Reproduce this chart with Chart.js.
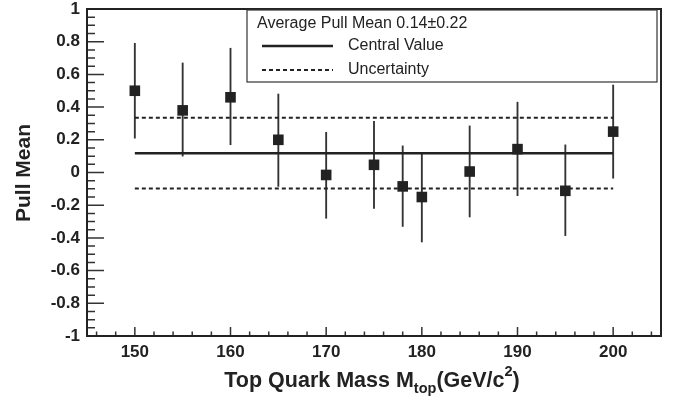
<!DOCTYPE html>
<html>
<head>
<meta charset="utf-8">
<script src="https://cdn.jsdelivr.net/npm/chart.js@4.4.1/dist/chart.umd.min.js"></script>
<style>
  html, body { margin: 0; padding: 0; background: #fff; }
  #wrap { width: 680px; height: 405px; position: relative; }
</style>
</head>
<body>
<div id="wrap"><canvas id="pullChart"></canvas></div>
<script>
// top mass points and fitted pull means
const masses    = [150, 155, 160, 165, 170, 175, 178, 180, 185, 190, 195, 200];
const pullMean  = [0.50, 0.38, 0.46, 0.20, -0.015, 0.047, -0.085, -0.15, 0.006, 0.143, -0.112, 0.25];
const errLow    = [0.21, 0.10, 0.17, -0.085, -0.28, -0.22, -0.33, -0.425, -0.272, -0.142, -0.386, -0.035];
const errHigh   = [0.79, 0.67, 0.76, 0.48, 0.246, 0.313, 0.163, 0.12, 0.285, 0.43, 0.169, 0.535];

const centralValue = 0.118;
const uncUp   = 0.335;
const uncDown = -0.098;

const xTicks = [150, 160, 170, 180, 190, 200];
const yTicks = [1, 0.8, 0.6, 0.4, 0.2, 0, -0.2, -0.4, -0.6, -0.8, -1];

const legendTitle = 'Average Pull Mean 0.14\u00b10.22';
const ink = '#222';

function hLine(y) {
    return [{x: masses[0], y: y}, {x: masses[masses.length - 1], y: y}];
}

// frame, inward ROOT-style ticks, axis titles and the legend box
const decorations = {
    id: 'decorations',
    beforeDatasetsDraw(chart) {
        const ctx = chart.ctx;
        const a = chart.chartArea;
        const xs = chart.scales.x;
        const ys = chart.scales.y;
        ctx.save();
        ctx.strokeStyle = '#333';
        ctx.lineWidth = 1.5;
        ctx.beginPath();
        for (let i = 73; i <= 102; i++) {
            const v = i * 2;
            const px = xs.getPixelForValue(v);
            const len = (v % 10 === 0) ? 9 : 4.5;
            ctx.moveTo(px, a.bottom);
            ctx.lineTo(px, a.bottom - len);
        }
        for (let i = -20; i <= 20; i++) {
            const py = ys.getPixelForValue(i * 0.05);
            const len = (i % 4 === 0) ? 17 : 8;
            ctx.moveTo(a.left, py);
            ctx.lineTo(a.left + len, py);
        }
        ctx.stroke();

        ctx.strokeStyle = ink;
        ctx.lineWidth = 2;
        ctx.strokeRect(a.left, a.top, a.right - a.left, a.bottom - a.top);
        ctx.restore();
    },
    afterDraw(chart) {
        const ctx = chart.ctx;
        ctx.save();
        ctx.fillStyle = ink;

        // y title
        ctx.save();
        ctx.translate(24, 173);
        ctx.rotate(-Math.PI / 2);
        ctx.font = 'bold 21px "Liberation Sans", Arial, sans-serif';
        ctx.textAlign = 'center';
        ctx.textBaseline = 'middle';
        ctx.fillText('Pull Mean', 0, 0);
        ctx.restore();

        // x title with sub/superscript
        const big = 'bold 21.5px "Liberation Sans", Arial, sans-serif';
        const small = 'bold 14.5px "Liberation Sans", Arial, sans-serif';
        const parts = [
            {t: 'Top Quark Mass M', f: big, dy: 0},
            {t: 'top', f: small, dy: 6},
            {t: '(GeV/c', f: big, dy: 0},
            {t: '2', f: small, dy: -11},
            {t: ')', f: big, dy: 0}
        ];
        let total = 0;
        parts.forEach(p => { ctx.font = p.f; p.w = ctx.measureText(p.t).width; total += p.w; });
        let x = 372 - total / 2;
        const base = 387;
        ctx.textAlign = 'left';
        ctx.textBaseline = 'alphabetic';
        parts.forEach(p => {
            ctx.font = p.f;
            ctx.fillText(p.t, x, base + p.dy);
            x += p.w;
        });

        // legend box
        ctx.fillStyle = '#fff';
        ctx.fillRect(247, 10, 410, 72);
        ctx.strokeStyle = '#333';
        ctx.lineWidth = 1.2;
        ctx.strokeRect(247, 10, 410, 72);

        ctx.fillStyle = ink;
        ctx.font = '16px "Liberation Sans", Arial, sans-serif';
        ctx.textBaseline = 'middle';
        ctx.fillText(legendTitle, 257, 24);
        ctx.fillText('Central Value', 348, 46);
        ctx.fillText('Uncertainty', 348, 70);

        ctx.strokeStyle = ink;
        ctx.lineWidth = 2.5;
        ctx.beginPath();
        ctx.moveTo(262, 46);
        ctx.lineTo(333, 46);
        ctx.stroke();
        ctx.lineWidth = 2;
        ctx.setLineDash([4, 3]);
        ctx.beginPath();
        ctx.moveTo(262, 70);
        ctx.lineTo(333, 70);
        ctx.stroke();
        ctx.restore();
    }
};

const tickFont = {family: '"Liberation Sans", Arial, sans-serif', size: 17, weight: 'bold', lineHeight: 1};

new Chart(document.getElementById('pullChart'), {
    type: 'scatter',
    data: {
        datasets: [
            {
                type: 'scatter',
                data: masses.map((m, i) => ({x: m, y: pullMean[i]})),
                pointStyle: 'rect',
                pointRadius: 7.5,
                backgroundColor: ink,
                borderWidth: 0,
                order: 0
            },
            {
                type: 'line',
                data: hLine(centralValue),
                borderColor: ink,
                borderWidth: 2.5,
                pointRadius: 0,
                fill: false,
                order: 1
            },
            {
                type: 'line',
                data: hLine(uncUp),
                borderColor: ink,
                borderWidth: 2,
                borderDash: [4, 3],
                pointRadius: 0,
                fill: false,
                order: 1
            },
            {
                type: 'line',
                data: hLine(uncDown),
                borderColor: ink,
                borderWidth: 2,
                borderDash: [4, 3],
                pointRadius: 0,
                fill: false,
                order: 1
            },
            {
                type: 'bar',
                data: masses.map((m, i) => ({x: m, y: [errLow[i], errHigh[i]]})),
                backgroundColor: '#333',
                barThickness: 1.2,
                order: 2
            }
        ]
    },
    options: {
        responsive: true,
        maintainAspectRatio: false,
        animation: false,
        events: [],
        layout: {autoPadding: false, padding: {top: 9, right: 19, left: 0, bottom: 0}},
        plugins: {legend: {display: false}, tooltip: {enabled: false}},
        scales: {
            x: {
                type: 'linear',
                min: 145,
                max: 205,
                offset: false,
                grid: {display: false, drawTicks: false},
                border: {display: false},
                afterBuildTicks: scale => { scale.ticks = xTicks.map(v => ({value: v})); },
                afterFit: scale => {
                    scale.height = 69;
                    scale.paddingLeft = 0;
                    scale.paddingRight = 0;
                },
                ticks: {color: ink, font: tickFont, padding: 8, maxRotation: 0, callback: v => String(v)}
            },
            y: {
                min: -1,
                max: 1,
                grid: {display: false, drawTicks: false},
                border: {display: false},
                afterBuildTicks: scale => { scale.ticks = yTicks.map(v => ({value: v})); },
                afterFit: scale => {
                    scale.width = 87;
                    scale.paddingTop = 0;
                    scale.paddingBottom = 0;
                },
                ticks: {color: ink, font: tickFont, padding: 7, callback: v => String(v)}
            }
        }
    },
    plugins: [decorations]
});
</script>
</body>
</html>
